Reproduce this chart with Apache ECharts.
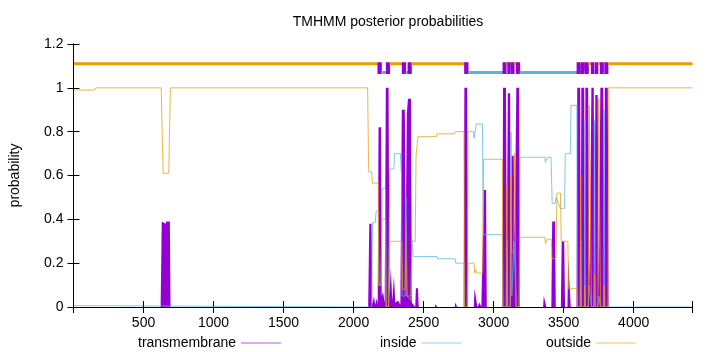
<!DOCTYPE html>
<html>
<head>
<meta charset="utf-8">
<script src="https://cdn.jsdelivr.net/npm/echarts@6/dist/echarts.min.js"></script>
<style>
  html, body { margin: 0; padding: 0; background: #fff; }
  #chart { width: 720px; height: 352px; }
</style>
</head>
<body>
<div id="chart"></div>
<script>
// sequence range and axis ticks
const seqMin = 0;
const seqMax = 4420;
const xTicks = [500, 1000, 1500, 2000, 2500, 3000, 3500, 4000];
const yTicks = [0, 0.2, 0.4, 0.6, 0.8, 1, 1.2];

// posterior probability for transmembrane (position, probability)
const tmProb = [
  [1, 0], [622, 0], [630, 0.39], [658, 0.38], [662, 0.39], [688, 0.39], [693, 0],
  [2104, 0], [2112, 0.38], [2128, 0.38], [2134, 0.01], [2146, 0.05], [2154, 0.01], [2166, 0.04], [2172, 0.01],
  [2178, 0.82], [2196, 0.82], [2201, 0.05], [2210, 0.07], [2222, 0.02],
  [2230, 1.0], [2250, 1.0], [2256, 0.05], [2266, 0.18], [2276, 0.03], [2288, 0.14], [2298, 0.02], [2318, 0.03], [2334, 0.01],
  [2344, 0.9], [2366, 0.9], [2372, 0.3], [2380, 0.88], [2388, 0.95], [2410, 0.95], [2416, 0.02],
  [2440, 0], [2445, 0.085], [2460, 0.085], [2465, 0],
  [2580, 0], [2584, 0.012], [2594, 0.012], [2598, 0],
  [2722, 0], [2726, 0.02], [2736, 0.02], [2740, 0],
  [2786, 0], [2791, 1.0], [2811, 1.0], [2816, 0],
  [2858, 0], [2864, 0.085], [2878, 0.085], [2884, 0],
  [2896, 0], [2900, 0.02], [2908, 0.02], [2912, 0],
  [2925, 0], [2930, 0.534], [2946, 0.534], [2951, 0],
  [3062, 0], [3067, 1.0], [3088, 1.0], [3094, 0.2], [3101, 0.975], [3118, 0.975], [3122, 0.25],
  [3128, 0.69], [3143, 0.69], [3150, 0.3], [3162, 1.0], [3182, 1.0], [3188, 0],
  [3353, 0], [3358, 0.05], [3372, 0.05], [3377, 0],
  [3412, 0], [3418, 0.39], [3438, 0.39], [3444, 0],
  [3480, 0], [3486, 0.3], [3504, 0.3], [3510, 0],
  [3527, 0], [3532, 0.22], [3546, 0.22], [3551, 0],
  [3592, 0], [3597, 1.0], [3618, 1.0], [3622, 0.08], [3626, 1.0], [3647, 1.0], [3651, 0.1],
  [3655, 1.0], [3675, 1.0], [3684, 0.05], [3692, 0.05], [3698, 1.0], [3715, 1.0], [3720, 0.1],
  [3726, 0.967], [3743, 0.967], [3750, 0.05], [3756, 0.05], [3762, 1.0], [3783, 1.0], [3789, 0.1],
  [3794, 1.0], [3815, 1.0], [3821, 0], [4420, 0]
];

// posterior probability for inside
const insideProb = [
  [1, 0.006], [150, 0.006], [160, 0.0], [2104, 0.0], [2128, 0.0], [2135, 0.385], [2155, 0.385],
  [2160, 0.435], [2176, 0.44], [2180, 0.1], [2196, 0.1], [2204, 0.54], [2228, 0.54], [2232, 0.0],
  [2250, 0.0], [2258, 0.63], [2288, 0.63], [2293, 0.7], [2334, 0.7], [2342, 0.6], [2346, 0.05],
  [2368, 0.05], [2374, 0.5], [2382, 0.05], [2410, 0.03], [2416, 0.31], [2426, 0.23], [2595, 0.23],
  [2600, 0.22], [2726, 0.22], [2730, 0.2], [2789, 0.2], [2792, 0.0], [2812, 0.0], [2817, 0.8],
  [2856, 0.8], [2860, 0.77], [2872, 0.77], [2876, 0.835], [2920, 0.835], [2926, 0.33], [3062, 0.33],
  [3066, 0.0], [3090, 0.0], [3095, 0.3], [3100, 0.0], [3120, 0.0], [3124, 0.8], [3130, 0.05],
  [3145, 0.3], [3156, 0.1], [3162, 0.0], [3182, 0.0], [3187, 0.683], [3366, 0.683], [3370, 0.66],
  [3380, 0.66], [3384, 0.683], [3410, 0.683], [3418, 0.473], [3440, 0.473], [3446, 0.5], [3460, 0.48],
  [3476, 0.45], [3506, 0.45], [3512, 0.7], [3548, 0.7], [3552, 0.92], [3594, 0.92], [3598, 0.0],
  [3618, 0.0], [3622, 0.3], [3626, 0.0], [3648, 0.0], [3652, 0.85], [3655, 0.0], [3676, 0.0],
  [3682, 0.1], [3698, 0.0], [3716, 0.0], [3720, 0.85], [3726, 0.0], [3744, 0.0], [3752, 0.05],
  [3762, 0.0], [3784, 0.0], [3789, 0.9], [3794, 0.0], [3816, 0.0], [3822, 0.0], [4420, 0.0]
];

// posterior probability for outside
const outsideProb = [
  [1, 0.99], [150, 0.99], [160, 1.0], [626, 1.0], [640, 0.61], [680, 0.61], [692, 1.0],
  [2100, 1.0], [2108, 0.617], [2130, 0.617], [2134, 0.565], [2176, 0.565], [2180, 0.1], [2196, 0.1],
  [2202, 0.4], [2228, 0.4], [2232, 0.0], [2250, 0.0], [2256, 0.28], [2262, 0.3], [2344, 0.3],
  [2350, 0.08], [2368, 0.08], [2372, 0.4], [2380, 0.05], [2410, 0.05], [2416, 0.3], [2440, 0.3],
  [2446, 0.69], [2456, 0.69], [2460, 0.777], [2590, 0.777], [2596, 0.79], [2720, 0.79], [2726, 0.8],
  [2788, 0.8], [2792, 0.0], [2812, 0.0], [2818, 0.2], [2860, 0.2], [2866, 0.155], [2872, 0.17],
  [2880, 0.155], [2922, 0.155], [2928, 0.674], [3062, 0.674], [3066, 0.0], [3090, 0.0], [3094, 0.55],
  [3100, 0.0], [3118, 0.0], [3122, 0.6], [3128, 0.25], [3143, 0.25], [3150, 0.7], [3160, 0.0],
  [3182, 0.0], [3187, 0.318], [3365, 0.318], [3370, 0.29], [3380, 0.29], [3384, 0.31], [3412, 0.31],
  [3417, 0.22], [3445, 0.22], [3452, 0.52], [3477, 0.52], [3483, 0.3], [3530, 0.3], [3535, 0.085],
  [3594, 0.085], [3598, 0.0], [3618, 0.0], [3622, 0.6], [3626, 0.0], [3648, 0.0], [3652, 0.1],
  [3655, 0.0], [3676, 0.0], [3682, 0.92], [3694, 0.92], [3699, 0.0], [3716, 0.0], [3721, 0.15],
  [3726, 0.0], [3744, 0.0], [3750, 0.95], [3758, 0.95], [3763, 0.0], [3784, 0.0], [3789, 0.1],
  [3794, 0.0], [3816, 0.0], [3822, 1.0], [4420, 1.0]
];

// predicted helices (start, end) for the topology bar
const helixStart = [2174, 2234, 2348, 2389, 2793, 3067, 3101, 3126, 3162, 3596, 3626, 3655, 3698, 3726, 3762, 3794];
const helixEnd   = [2198, 2257, 2371, 2412, 2817, 3089, 3119, 3146, 3186, 3619, 3648, 3676, 3716, 3744, 3784, 3816];
const outsideLevel = 1.11;
const insideLevel = 1.07;

const purple = '#9400d3';
const blue = '#56b4e9';
const orange = '#e69f00';

// topology segments: loops alternate outside/inside starting outside
const topo = [];
let prev = 1;
let side = 0; // 0 outside, 1 inside
for (let i = 0; i < helixStart.length; i++) {
  topo.push([prev, helixStart[i], side === 0 ? outsideLevel : insideLevel, side]);
  topo.push([helixStart[i], helixEnd[i], (outsideLevel + insideLevel) / 2, 2]);
  prev = helixEnd[i];
  side = 1 - side;
}
topo.push([prev, seqMax, side === 0 ? outsideLevel : insideLevel, side]);

function renderTopo(params, api) {
  const kind = api.value(3);
  const x0 = api.value(0), x1 = api.value(1);
  if (kind === 2) {
    const a = api.coord([x0, outsideLevel]);
    const b = api.coord([x1, insideLevel]);
    return {
      type: 'rect',
      shape: { x: a[0] - 0.5, y: a[1] - 1.5, width: b[0] - a[0] + 1, height: b[1] - a[1] + 3 },
      style: { fill: purple }
    };
  }
  const lvl = api.value(2);
  const a = api.coord([x0, lvl]);
  const b = api.coord([x1, lvl]);
  return {
    type: 'line',
    shape: { x1: a[0], y1: a[1], x2: b[0], y2: b[1] },
    style: { stroke: kind === 0 ? orange : blue, lineWidth: 3 }
  };
}

const font = 'Liberation Sans, Arial, sans-serif';
const chart = echarts.init(document.getElementById('chart'));

const tickStyle = { inside: true, length: 6, lineStyle: { color: '#000', width: 1 } };
const lineAxis = { show: true, lineStyle: { color: '#000', width: 1 } };

const legendBase = {
  orient: 'horizontal',
  align: 'right',
  icon: 'rect',
  itemWidth: 40,
  itemHeight: 1,
  itemGap: 8,
  top: 331,
  textStyle: { fontFamily: font, fontSize: 14, color: '#000' }
};

chart.setOption({
  animation: false,
  title: {
    text: 'TMHMM posterior probabilities',
    left: 383,
    textAlign: 'center',
    top: 10,
    textStyle: { fontFamily: font, fontSize: 14, fontWeight: 'normal', color: '#000' }
  },
  legend: [
    Object.assign({}, legendBase, { left: 133, data: [{ name: 'transmembrane', itemStyle: { color: '#b05ad8' } }] }),
    Object.assign({}, legendBase, { left: 375, data: [{ name: 'inside', itemStyle: { color: '#95cdee' } }] }),
    Object.assign({}, legendBase, { left: 541, data: [{ name: 'outside', itemStyle: { color: '#f0c060' } }] })
  ],
  grid: { left: 73.5, right: 27.5, top: 44, bottom: 45 },
  xAxis: [
    {
      type: 'value', position: 'bottom', min: seqMin, max: seqMax, interval: 500, z: 10,
      axisLine: lineAxis, axisTick: tickStyle, splitLine: { show: false },
      axisLabel: {
        fontFamily: font, fontSize: 14, color: '#000', margin: 9,
        formatter: (v) => (xTicks.includes(v) ? String(v) : '')
      }
    },
    {
      type: 'value', position: 'top', min: seqMin, max: seqMax, interval: 500, z: 10,
      axisLine: lineAxis, axisTick: tickStyle, splitLine: { show: false },
      axisLabel: { show: false }
    }
  ],
  yAxis: [
    {
      type: 'value', position: 'left', min: 0, max: 1.2, interval: 0.2, z: 10,
      axisLine: lineAxis, axisTick: tickStyle, splitLine: { show: false },
      name: 'probability', nameLocation: 'middle', nameGap: 51, nameRotate: 90,
      nameTextStyle: { fontFamily: font, fontSize: 14, color: '#000' },
      axisLabel: {
        fontFamily: font, fontSize: 14, color: '#000', margin: 10,
        formatter: (v) => {
          const t = yTicks.find((k) => Math.abs(k - v) < 1e-6);
          return t === undefined ? '' : String(t);
        }
      }
    },
    {
      type: 'value', position: 'right', min: 0, max: 1.2, interval: 0.2, z: 10,
      axisLine: lineAxis, axisTick: tickStyle, splitLine: { show: false },
      axisLabel: { show: false }
    }
  ],
  series: [
    {
      name: 'transmembrane', type: 'line', data: tmProb, symbol: 'none', z: 2,
      lineStyle: { color: purple, width: 0 }, itemStyle: { color: purple },
      areaStyle: { color: purple, opacity: 1 }
    },
    {
      name: 'inside', type: 'line', data: insideProb, symbol: 'none', z: 3,
      lineStyle: { color: blue, width: 1, opacity: 0.75 }, itemStyle: { color: blue }
    },
    {
      name: 'outside', type: 'line', data: outsideProb, symbol: 'none', z: 4,
      lineStyle: { color: orange, width: 1, opacity: 0.75 }, itemStyle: { color: orange }
    },
    {
      name: 'topology', type: 'custom', data: topo, renderItem: renderTopo, z: 5,
      encode: { x: [0, 1], y: 2 }, silent: true
    }
  ]
});
</script>
</body>
</html>
